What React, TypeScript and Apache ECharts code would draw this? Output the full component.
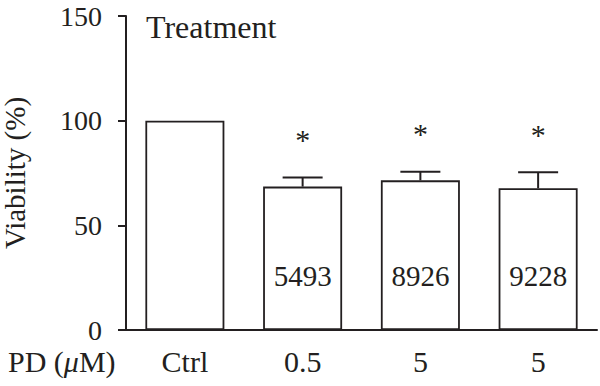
import React, { useEffect, useRef } from "react";
import * as echarts from "echarts";

const categories = ["Ctrl", "0.5", "5", "5"];
const viability = [100, 68.5, 71.5, 67.7];
const sem = [0, 4.4, 4.1, 7.6];
const significant = [false, true, true, true];
const inBarLabels = ["", "5493", "8926", "9228"];
const yTicks = [0, 50, 100, 150];

const FONT = "serif";
const INK = "#231f20";

export default function App() {
  const ref = useRef<HTMLDivElement>(null);
  useEffect(() => {
    if (!ref.current) return;
    document.body.style.margin = "0";
    const chart = echarts.init(ref.current, null, { renderer: "svg" });
    const errData = categories.map((_, i) => [i, viability[i], sem[i], significant[i] ? 1 : 0]);
    chart.setOption({
      animation: false,
      textStyle: { fontFamily: FONT },
      grid: { left: 126, right: 3, top: 16, bottom: 56, outerBoundsMode: "none", containLabel: false },
      xAxis: {
        type: "category",
        data: categories,
        boundaryGap: true,
        axisLine: { lineStyle: { color: INK, width: 2 } },
        axisTick: { alignWithLabel: true, length: 8, inside: false, lineStyle: { color: INK, width: 2 } },
        axisLabel: { color: INK, fontSize: 30, fontFamily: FONT, margin: 16 },
      },
      yAxis: {
        type: "value",
        min: yTicks[0],
        max: yTicks[yTicks.length - 1],
        interval: 50,
        name: "Viability (%)",
        nameLocation: "middle",
        nameRotate: 90,
        nameGap: 97,
        nameTextStyle: { color: INK, fontSize: 29, fontFamily: FONT },
        splitLine: { show: false },
        axisLine: { show: true, lineStyle: { color: INK, width: 2 } },
        axisTick: { show: true, length: 8, lineStyle: { color: INK, width: 2 } },
        axisLabel: { color: INK, fontSize: 28, fontFamily: FONT, margin: 24 },
      },
      series: [
        {
          type: "bar",
          data: viability,
          barWidth: 79,
          itemStyle: { color: "#ffffff", borderColor: INK, borderWidth: 1.8 },
          z: 2,
        },
        {
          type: "custom",
          data: errData,
          z: 3,
          renderItem: (params: any, api: any) => {
            const idx = api.value(0);
            const mean = api.value(1);
            const err = api.value(2);
            const sig = api.value(3);
            const children: any[] = [];
            const label = inBarLabels[idx];
            if (label) {
              const bottom = api.coord([idx, 0]);
              children.push({
                type: "text",
                x: bottom[0],
                y: bottom[1] - 54,
                style: { text: label, fontSize: 29, fontFamily: FONT, fill: INK, align: "center", verticalAlign: "middle" },
              });
            }
            if (err) {
              const base = api.coord([idx, mean]);
              const top = api.coord([idx, mean + err]);
              const half = 20;
              children.push(
                { type: "line", shape: { x1: base[0], y1: base[1], x2: top[0], y2: top[1] }, style: { stroke: INK, lineWidth: 2 } },
                { type: "line", shape: { x1: top[0] - half, y1: top[1], x2: top[0] + half, y2: top[1] }, style: { stroke: INK, lineWidth: 2 } }
              );
              if (sig) {
                children.push({
                  type: "text",
                  x: top[0],
                  y: top[1] - 38,
                  style: { text: "*", fontSize: 30, fontFamily: FONT, fill: INK, align: "center", verticalAlign: "middle" },
                });
              }
            }
            return { type: "group", children };
          },
        },
      ],
      graphic: [
        {
          type: "text",
          left: 146,
          top: 11,
          style: { text: "Treatment", fontSize: 32, fontFamily: FONT, fill: INK },
        },
        {
          type: "text",
          left: 8,
          top: 346,
          style: {
            text: "PD ({i|μ}M)",
            fontSize: 30,
            fontFamily: FONT,
            fill: INK,
            rich: { i: { fontStyle: "italic", fontSize: 30, fontFamily: FONT, fill: INK } },
          },
        },
      ],
    });
    return () => chart.dispose();
  }, []);
  return <div ref={ref} style={{ width: 600, height: 386 }} />;
}
